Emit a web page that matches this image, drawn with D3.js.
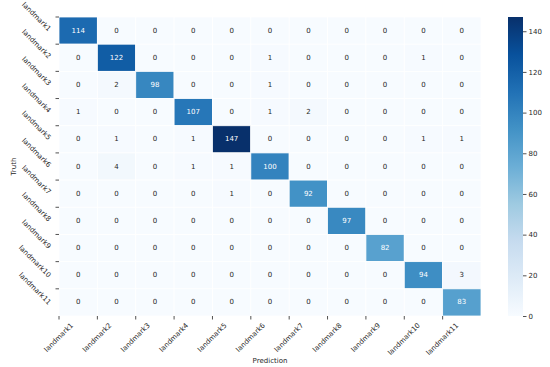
<!DOCTYPE html>
<html>
<head>
<meta charset="utf-8">
<script src="https://cdn.jsdelivr.net/npm/d3@7"></script>
<style>
  html, body { margin: 0; padding: 0; background: #fff; }
  svg { display: block; font-family: "DejaVu Sans", sans-serif; }
</style>
</head>
<body>
<svg id="chart" width="550" height="367"></svg>
<script>
const labels = ["landmark1","landmark2","landmark3","landmark4","landmark5","landmark6","landmark7","landmark8","landmark9","landmark10","landmark11"];
const row1  = [114,0,0,0,0,0,0,0,0,0,0];
const row2  = [0,122,0,0,0,1,0,0,0,1,0];
const row3  = [0,2,98,0,0,1,0,0,0,0,0];
const row4  = [1,0,0,107,0,1,2,0,0,0,0];
const row5  = [0,1,0,1,147,0,0,0,0,1,1];
const row6  = [0,4,0,1,1,100,0,0,0,0,0];
const row7  = [0,0,0,0,1,0,92,0,0,0,0];
const row8  = [0,0,0,0,0,0,0,97,0,0,0];
const row9  = [0,0,0,0,0,0,0,0,82,0,0];
const row10 = [0,0,0,0,0,0,0,0,0,94,3];
const row11 = [0,0,0,0,0,0,0,0,0,0,83];
const counts = [row1,row2,row3,row4,row5,row6,row7,row8,row9,row10,row11];
const colorTicks = [0,20,40,60,80,100,120,140];
const blues = ["#f7fbff","#deebf7","#c6dbef","#9ecae1","#6baed6","#4292c6","#2171b5","#08519c","#08306b"];

const svg = d3.select("#chart");
const L = 59, R = 481, T = 17, B = 316;
const vmax = d3.max(counts.flat());

const x = d3.scaleBand().domain(d3.range(labels.length)).range([L, R]);
const y = d3.scaleBand().domain(d3.range(labels.length)).range([T, B]);
const color = d3.scaleLinear()
  .domain(blues.map((_, i) => i / (blues.length - 1) * vmax))
  .range(blues).interpolate(d3.interpolateRgb).clamp(true);

function lum(c) {
  const rgb = d3.rgb(c);
  const f = v => { v /= 255; return v <= 0.03928 ? v / 12.92 : Math.pow((v + 0.055) / 1.055, 2.4); };
  return 0.2126 * f(rgb.r) + 0.7152 * f(rgb.g) + 0.0722 * f(rgb.b);
}

const cells = [];
counts.forEach((r, i) => r.forEach((v, j) => cells.push({i, j, v})));

svg.append("g").selectAll("rect").data(cells).join("rect")
  .attr("x", d => x(d.j)).attr("y", d => y(d.i))
  .attr("width", x.bandwidth()).attr("height", y.bandwidth())
  .attr("fill", d => color(d.v))
  .attr("stroke", "#fff").attr("stroke-width", 0.8);

svg.append("g").selectAll("text").data(cells).join("text")
  .attr("x", d => x(d.j) + x.bandwidth() / 2)
  .attr("y", d => y(d.i) + y.bandwidth() / 2)
  .attr("text-anchor", "middle").attr("dominant-baseline", "central")
  .attr("font-size", 7)
  .attr("fill", d => lum(color(d.v)) > 0.408 ? "#262626" : "#ffffff")
  .text(d => d.v);

const tickCol = "#262626";
const h = 7, c45 = Math.SQRT1_2;

// Y ticks at row top boundaries
const yAxis = svg.append("g");
labels.forEach((lab, i) => {
  const ty = y(i);
  yAxis.append("line").attr("x1", L - 3.5).attr("x2", L).attr("y1", ty).attr("y2", ty)
    .attr("stroke", tickCol).attr("stroke-width", 0.8);
  const t = yAxis.append("text").attr("font-size", 7).attr("fill", tickCol)
    .attr("text-anchor", "end").attr("dominant-baseline", "middle").text(lab);
  const w = t.node().getComputedTextLength();
  const ax = L - 7 - h * c45 / 2, ay = ty + w * c45 / 2;
  t.attr("transform", `translate(${ax},${ay}) rotate(45)`);
});

// X ticks at column left boundaries
const xAxis = svg.append("g");
labels.forEach((lab, j) => {
  const tx = x(j);
  xAxis.append("line").attr("x1", tx).attr("x2", tx).attr("y1", B).attr("y2", B + 3.5)
    .attr("stroke", tickCol).attr("stroke-width", 0.8);
  const t = xAxis.append("text").attr("font-size", 7).attr("fill", tickCol)
    .attr("text-anchor", "end").attr("dominant-baseline", "middle").text(lab);
  const w = t.node().getComputedTextLength();
  const ax = tx + w * c45 / 2, ay = B + 6 + h * c45 / 2;
  t.attr("transform", `translate(${ax},${ay}) rotate(-45)`);
});

svg.append("text").attr("transform", `translate(14,${(T + B) / 2}) rotate(-90)`)
  .attr("text-anchor", "middle").attr("dominant-baseline", "central")
  .attr("font-size", 7).attr("fill", tickCol).text("Truth");
svg.append("text").attr("x", (L + R) / 2).attr("y", 361)
  .attr("text-anchor", "middle").attr("dominant-baseline", "central")
  .attr("font-size", 7).attr("fill", tickCol).text("Prediction");

// Colorbar
const CL = 508, CR = 523;
const cy = d3.scaleLinear().domain([0, vmax]).range([B, T]);
const defs = svg.append("defs");
const grad = defs.append("linearGradient").attr("id", "cb").attr("x1", 0).attr("x2", 0).attr("y1", 1).attr("y2", 0);
blues.forEach((b, i) => grad.append("stop").attr("offset", i / (blues.length - 1)).attr("stop-color", b));
svg.append("rect").attr("x", CL).attr("y", T).attr("width", CR - CL).attr("height", B - T).attr("fill", "url(#cb)");
const cAxis = svg.append("g").attr("transform", `translate(${CR},0)`)
  .call(d3.axisRight(cy).tickValues(colorTicks).tickSize(3.5).tickPadding(2));
cAxis.select(".domain").remove();
cAxis.selectAll("line").attr("stroke", tickCol).attr("stroke-width", 0.8);
cAxis.selectAll("text").attr("font-size", 7).attr("fill", tickCol).attr("font-family", "DejaVu Sans");
</script>
</body>
</html>
